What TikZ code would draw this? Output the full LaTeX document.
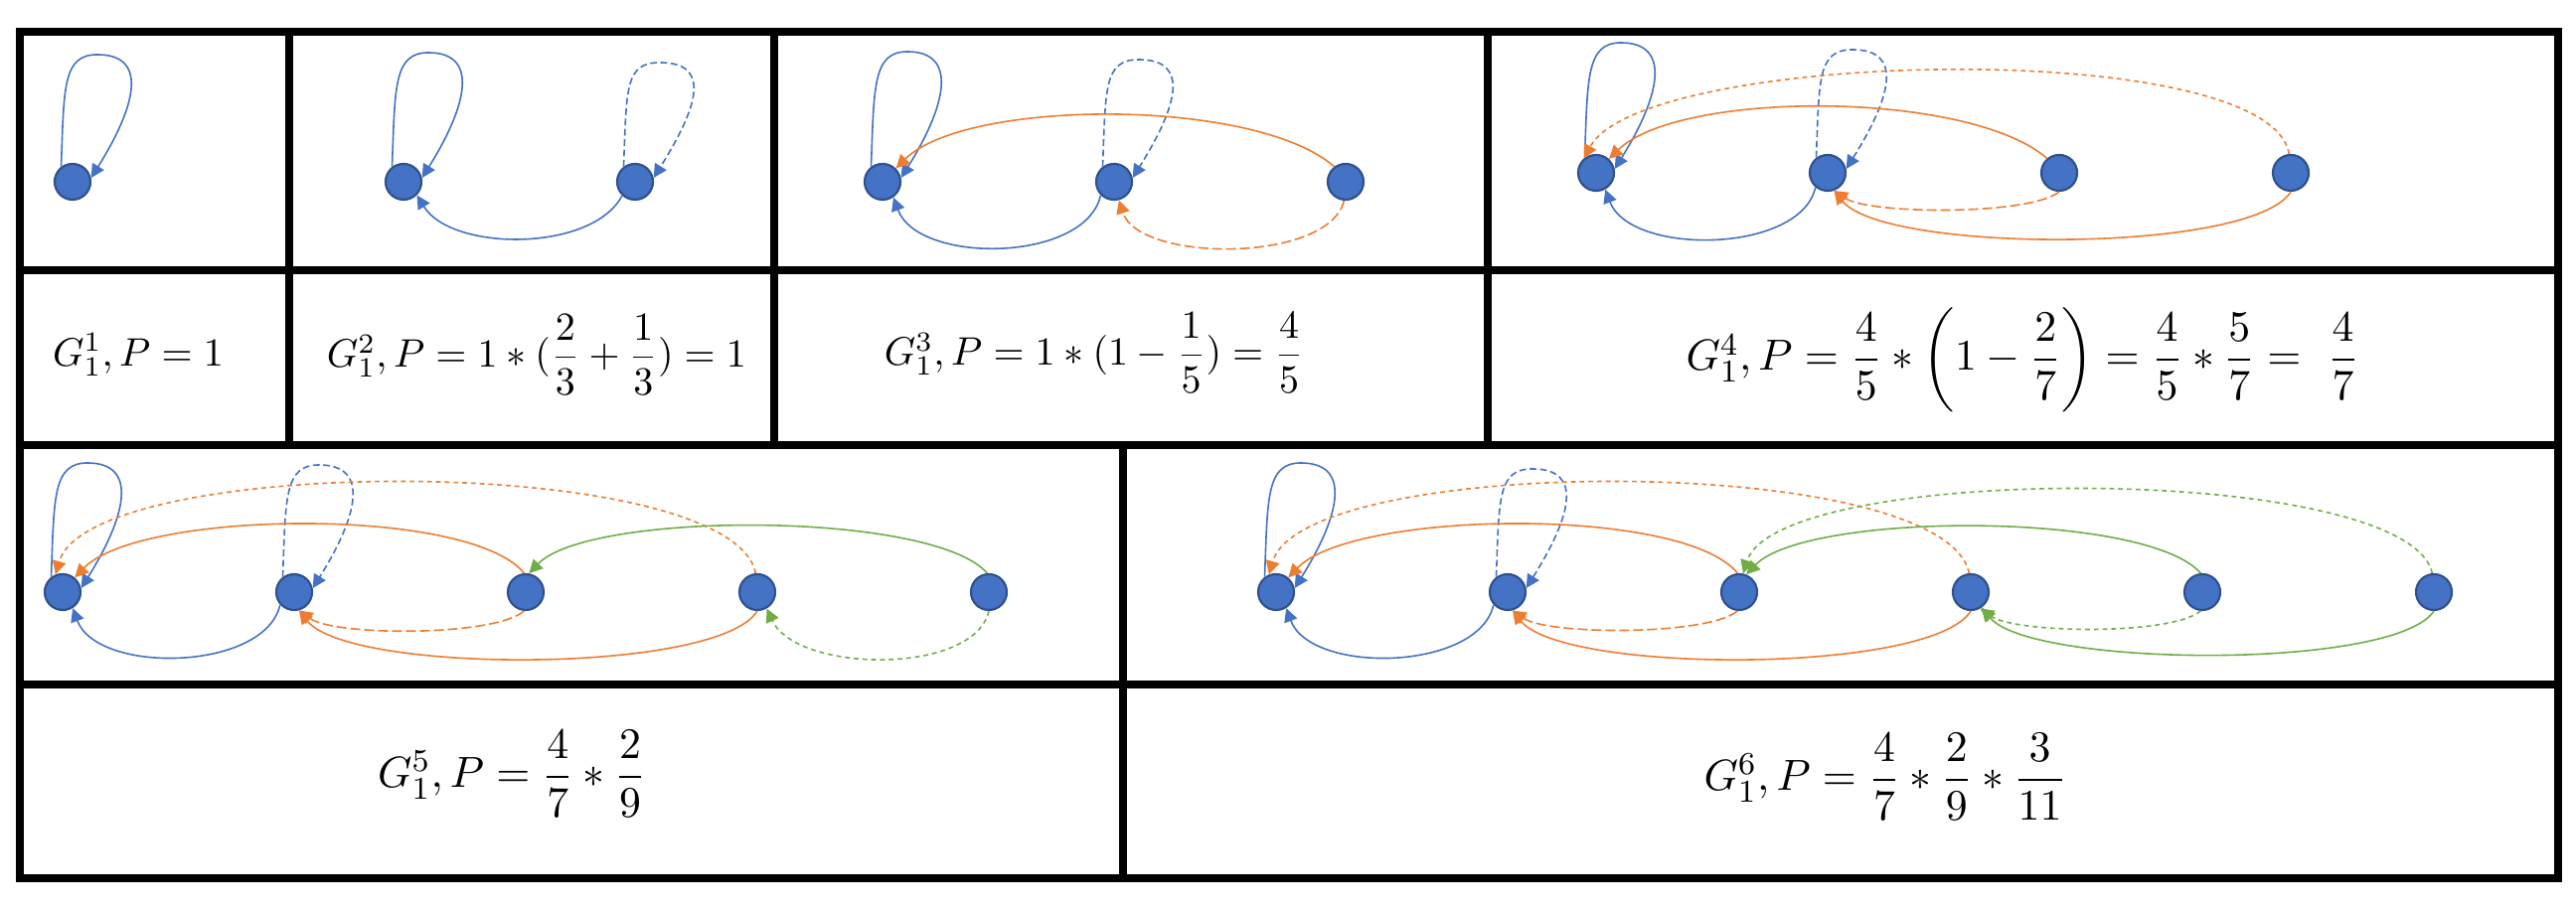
\documentclass[tikz,border=0pt]{standalone}
\usepackage{amsmath}
\usetikzlibrary{positioning,arrows.meta,calc}
\definecolor{nodeblue}{HTML}{4472C4}
\definecolor{nodeline}{HTML}{2F528F}
\definecolor{arcorange}{HTML}{ED7D31}
\definecolor{arcgreen}{HTML}{70AD47}
\tikzset{
  vtx/.style={circle,fill=nodeblue,draw=nodeline,line width=0.55pt,minimum size=9pt,inner sep=0pt},
  edg/.style={draw=#1,line width=0.4pt,-{Triangle[length=3.4pt,width=3.4pt]}},
  longdash/.style={dash pattern=on 2.5pt off 1pt},
  shortdash/.style={dash pattern=on 1.2pt off 1pt},
  loopdash/.style={dash pattern=on 1.7pt off 0.9pt},
  frame/.style={line width=1.9pt},
  formula/.style={inner sep=0pt,font=\fontsize{11}{13}\selectfont},
  smallformula/.style={inner sep=0pt,font=\fontsize{10}{12}\selectfont}
}
\newcommand{\vertex}[2]{\node[vtx,#2] (#1) {};}
\newcommand{\selfloop}[3]{\draw[edg=nodeblue,#1] (#2.127) .. controls +(3,80) and +(-35,0) .. ($(#2)+(25,#3)$) .. controls +(52,0) and +(45,72) .. (#2.12);}
\newcommand{\myarc}[5]{\draw[#1] (#2) .. controls +(#3) and +(#4) .. (#5);}

\begin{document}
\begin{tikzpicture}[x=0.25pt,y=0.25pt,node distance=58.25pt]
    \useasboundingbox (0,0) rectangle (2592,918);
    % table
    \draw[frame] (20,34) rectangle (2574,886);
    \draw[frame] (20,646) -- (2574,646);
    \draw[frame] (20,470) -- (2574,470);
    \draw[frame] (20,229) -- (2574,229);
    \foreach \xx in {291,779,1497} \draw[frame] (\xx,470) -- (\xx,886);
    \draw[frame] (1130,34) -- (1130,470);

    % G_1^1
    \vertex{a1}{at={(73,735)}}
    \selfloop{}{a1}{128}
    \node[smallformula] (p1) at (139,561) {$G_1^1, P = 1$};

    % G_1^2
    \vertex{b1}{at={(406,735)}}
    \vertex{b2}{right of=b1}
    \selfloop{}{b1}{130}
    \selfloop{loopdash}{b2}{120}
    \myarc{edg=nodeblue}{b2.227}{-30,-57}{35,-57}{b1.315}
    \node[smallformula] (p2) at (540,561) {$G_1^2, P = 1 * (\dfrac{2}{3} + \dfrac{1}{3}) = 1$};

    % G_1^3
    \vertex{c1}{at={(888,735)}}
    \vertex{c2}{right of=c1}
    \vertex{c3}{right of=c2}
    \selfloop{}{c1}{131}
    \selfloop{loopdash}{c2}{123}
    \myarc{edg=arcorange}{c3.127}{-80,70}{70,70}{c1.45}
    \myarc{edg=nodeblue}{c2.225}{-15,-68}{25,-68}{c1.305}
    \myarc{edg=arcorange,longdash}{c3.265}{-15,-63}{20,-63}{c2.285}
    \node[smallformula] (p3) at (1101,563) {$G_1^3, P = 1 * (1 - \dfrac{1}{5}) = \dfrac{4}{5}$};

    % G_1^4
    \vertex{d1}{at={(1606,744)}}
    \vertex{d2}{right of=d1}
    \vertex{d3}{right of=d2}
    \vertex{d4}{right of=d3}
    \selfloop{}{d1}{131}
    \selfloop{loopdash}{d2}{124}
    \myarc{edg=arcorange,shortdash}{d4.95}{-20,119}{60,110}{d1.130}
    \myarc{edg=arcorange}{d3.130}{-80,69}{70,69}{d1.47}
    \myarc{edg=nodeblue}{d2.230}{-15,-67}{25,-67}{d1.299}
    \myarc{edg=arcorange,longdash}{d3.270}{-30,-24}{35,-24}{d2.290}
    \myarc{edg=arcorange}{d4.270}{-40,-63}{50,-63}{d2.290}
    \node[formula] (p4) at (2035,556) {$G_1^4, P = \dfrac{4}{5} * \biggl(1 - \dfrac{2}{7}\biggr) = \dfrac{4}{5} * \dfrac{5}{7} = \ \dfrac{4}{7}$};

    % G_1^5
    \vertex{e1}{at={(63,322)}}
    \vertex{e2}{right of=e1}
    \vertex{e3}{right of=e2}
    \vertex{e4}{right of=e3}
    \vertex{e5}{right of=e4}
    \selfloop{}{e1}{130}
    \selfloop{loopdash}{e2}{128}
    \myarc{edg=arcorange,shortdash}{e4.95}{-25,122}{35,122}{e1.112}
    \myarc{edg=arcorange}{e3.95}{-55,68}{65,68}{e1.50}
    \myarc{edg=arcgreen}{e5.95}{-55,63}{60,63}{e3.80}
    \myarc{edg=nodeblue}{e2.222}{-15,-67}{25,-67}{e1.302}
    \myarc{edg=arcorange,longdash}{e3.265}{-30,-26}{35,-26}{e2.285}
    \myarc{edg=arcorange}{e4.270}{-40,-64}{50,-64}{e2.285}
    \myarc{edg=arcgreen,shortdash}{e5.270}{-15,-65}{30,-65}{e4.300}
    \node[formula] (p5) at (515,139) {$G_1^5, P = \dfrac{4}{7} * \dfrac{2}{9}$};

    % G_1^6
    \vertex{f1}{at={(1284,322)}}
    \vertex{f2}{right of=f1}
    \vertex{f3}{right of=f2}
    \vertex{f4}{right of=f3}
    \vertex{f5}{right of=f4}
    \vertex{f6}{right of=f5}
    \selfloop{}{f1}{130}
    \selfloop{loopdash}{f2}{124}
    \myarc{edg=arcorange,shortdash}{f4.95}{-25,122}{35,122}{f1.112}
    \myarc{edg=arcorange}{f3.95}{-55,68}{65,68}{f1.50}
    \myarc{edg=arcgreen,shortdash}{f6.95}{-25,112}{35,112}{f3.78}
    \myarc{edg=arcgreen}{f5.95}{-55,63}{60,63}{f3.68}
    \myarc{edg=nodeblue}{f2.222}{-15,-67}{25,-67}{f1.302}
    \myarc{edg=arcorange,longdash}{f3.265}{-30,-25}{35,-25}{f2.285}
    \myarc{edg=arcorange}{f4.270}{-40,-64}{50,-64}{f2.285}
    \myarc{edg=arcgreen,shortdash}{f5.265}{-30,-25}{35,-25}{f4.300}
    \myarc{edg=arcgreen}{f6.270}{-40,-60}{50,-60}{f4.305}
    \node[formula] (p6) at (1897,136) {$G_1^6, P = \dfrac{4}{7} * \dfrac{2}{9} * \dfrac{3}{11}$};
\end{tikzpicture}
\end{document}
